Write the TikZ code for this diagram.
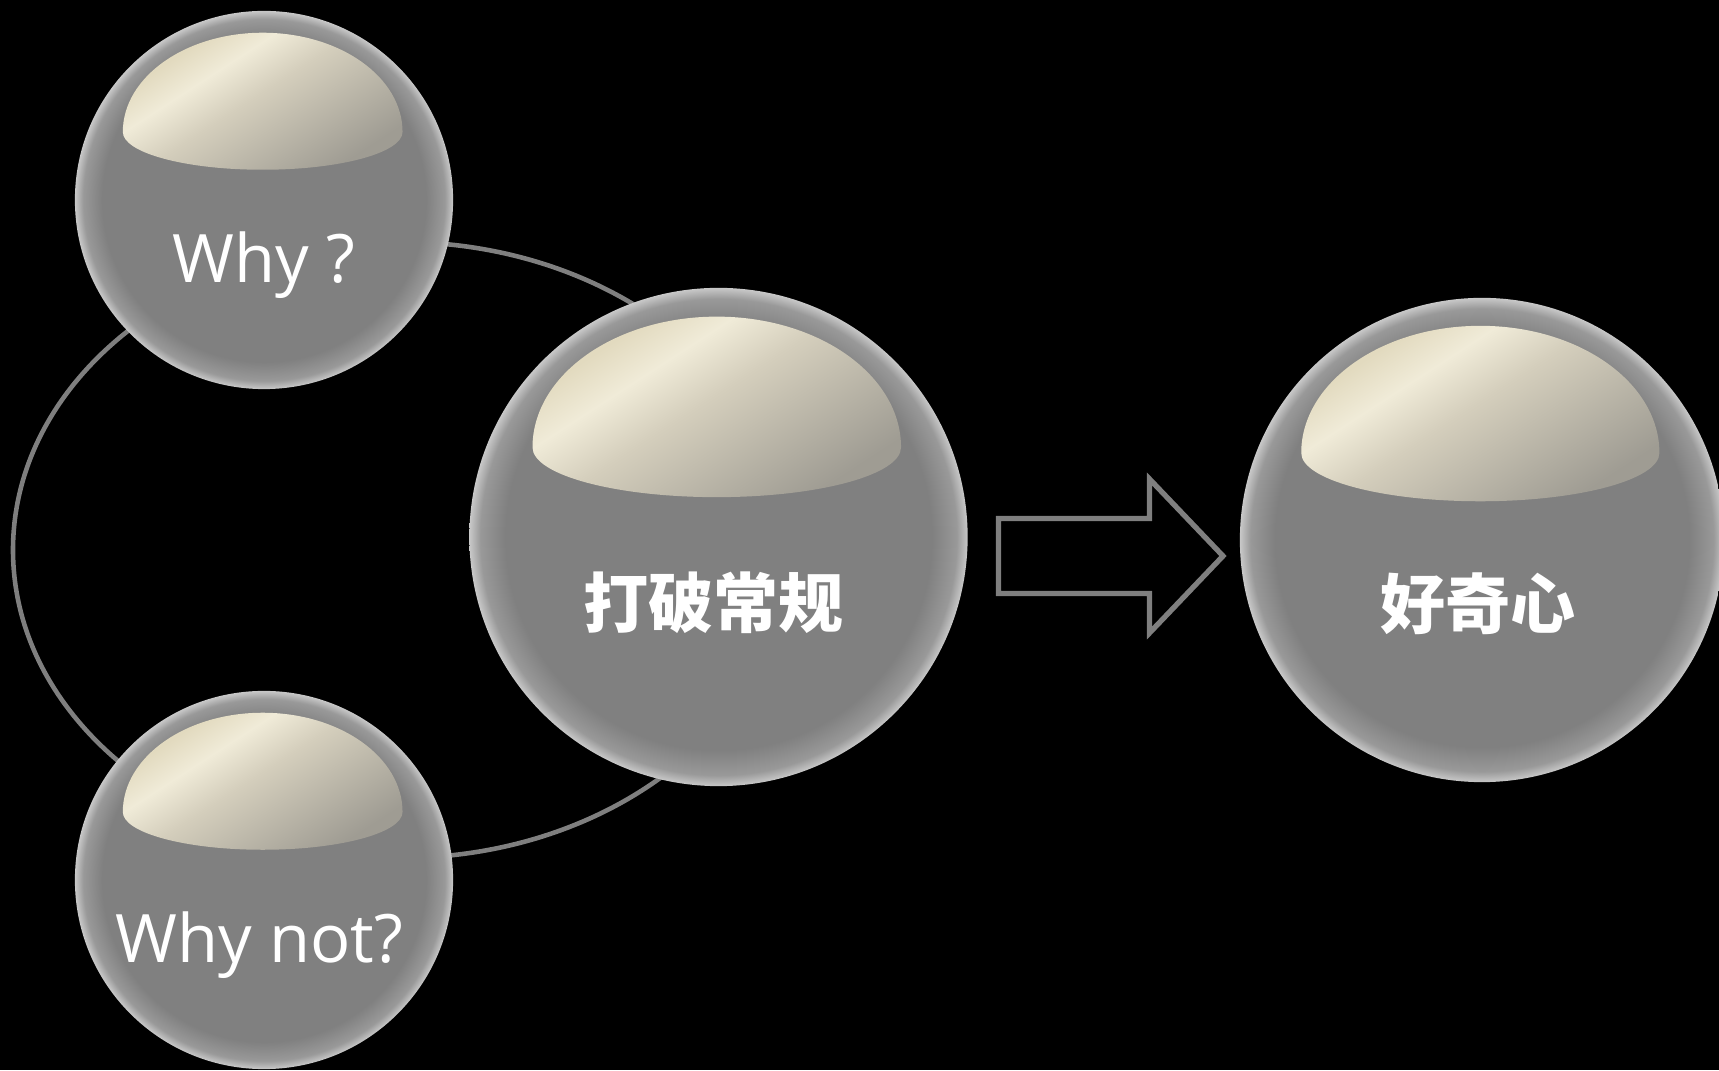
\documentclass[tikz,border=0pt]{standalone}
\usepackage{fontspec}
\setmainfont{Open Sans}
\newfontfamily\cjk{Noto Sans CJK SC}

\definecolor{ballgray}{HTML}{808080}
\definecolor{rimgray}{HTML}{999999}
\definecolor{rimlight}{HTML}{C8C8C8}
\definecolor{linegray}{HTML}{7F7F7F}
\definecolor{capdark}{HTML}{9F9C93}
\definecolor{capmid}{HTML}{D4CEBC}
\definecolor{capbright}{HTML}{F0EBD8}
\definecolor{caplight}{HTML}{E2DABF}

\pgfdeclareradialshading{ballrim}{\pgfpoint{0bp}{0bp}}{color(0bp)=(ballgray); color(21.4bp)=(ballgray); color(23.9bp)=(rimgray); color(25bp)=(rimlight); color(50bp)=(rimlight)}
\pgfdeclareverticalshading{capshade}{100bp}{color(0bp)=(capdark); color(25bp)=(capdark); color(52bp)=(capmid); color(63bp)=(capbright); color(72bp)=(caplight); color(100bp)=(caplight)}

% glossy cap on a ball: #1 node, #2 radius
\newcommand\ballcap[2]{%
  \shade[shading=capshade, shading angle=33]
    ([shift={(-0.747*#2,0.36*#2)}]#1.center)
    arc[start angle=180, end angle=0, x radius=0.74*#2, y radius=0.525*#2]
    arc[start angle=0, end angle=-180, x radius=0.74*#2, y radius=0.2*#2]
    -- cycle;}

\begin{document}
\begin{tikzpicture}[x=0.01cm, y=0.01cm,
  ball/.style={circle, inner sep=0pt, shading=ballrim},
  small/.style={minimum size=3.78cm},
  ringline/.style={draw=linegray, line width=1.3pt},
  latin/.style={text=white, font=\fontsize{19pt}{22pt}\selectfont},
  hanzi/.style={text=white, font=\cjk\bfseries\fontsize{18.5pt}{22pt}\selectfont}]

  \fill[black] (0,0) rectangle (1719,1070);
  \useasboundingbox (0,0) rectangle (1719,1070);

  \coordinate (loopc) at (400,520);
  \draw[ringline] (loopc) ellipse[x radius=387, y radius=308];

  \node (why) at (264,870) [ball, small] {};
  \node (whynot) at (264,190) [ball, small] {};
  \node (rules) at (718.5,533) [ball, minimum size=4.98cm] {};
  \node (curious) at (1482,530) [ball, minimum size=4.84cm] {};

  \ballcap{why}{189}
  \ballcap{whynot}{189}
  \ballcap{rules}{249}
  \ballcap{curious}{242}

  \node (whytext) at (264,787) [latin, anchor=base] {Why ?};
  \node (whynottext) at (259,107) [latin, anchor=base] {Why not?};
  \node (rulestext) at (713.5,467) [hanzi] {打破常规};
  \node (curioustext) at (1478,466) [hanzi] {好奇心};

  \coordinate (arrowtail) at (998.5,514);
  \draw[draw=linegray, line width=1.5pt, line join=miter]
    ([yshift=37.5*0.01cm]arrowtail) -- ++(151,0) -- (1149.5,591) -- (1223,514)
    -- (1149.5,437) -- (1149.5,476.5) -- ([yshift=-37.5*0.01cm]arrowtail) -- cycle;
\end{tikzpicture}
\end{document}
